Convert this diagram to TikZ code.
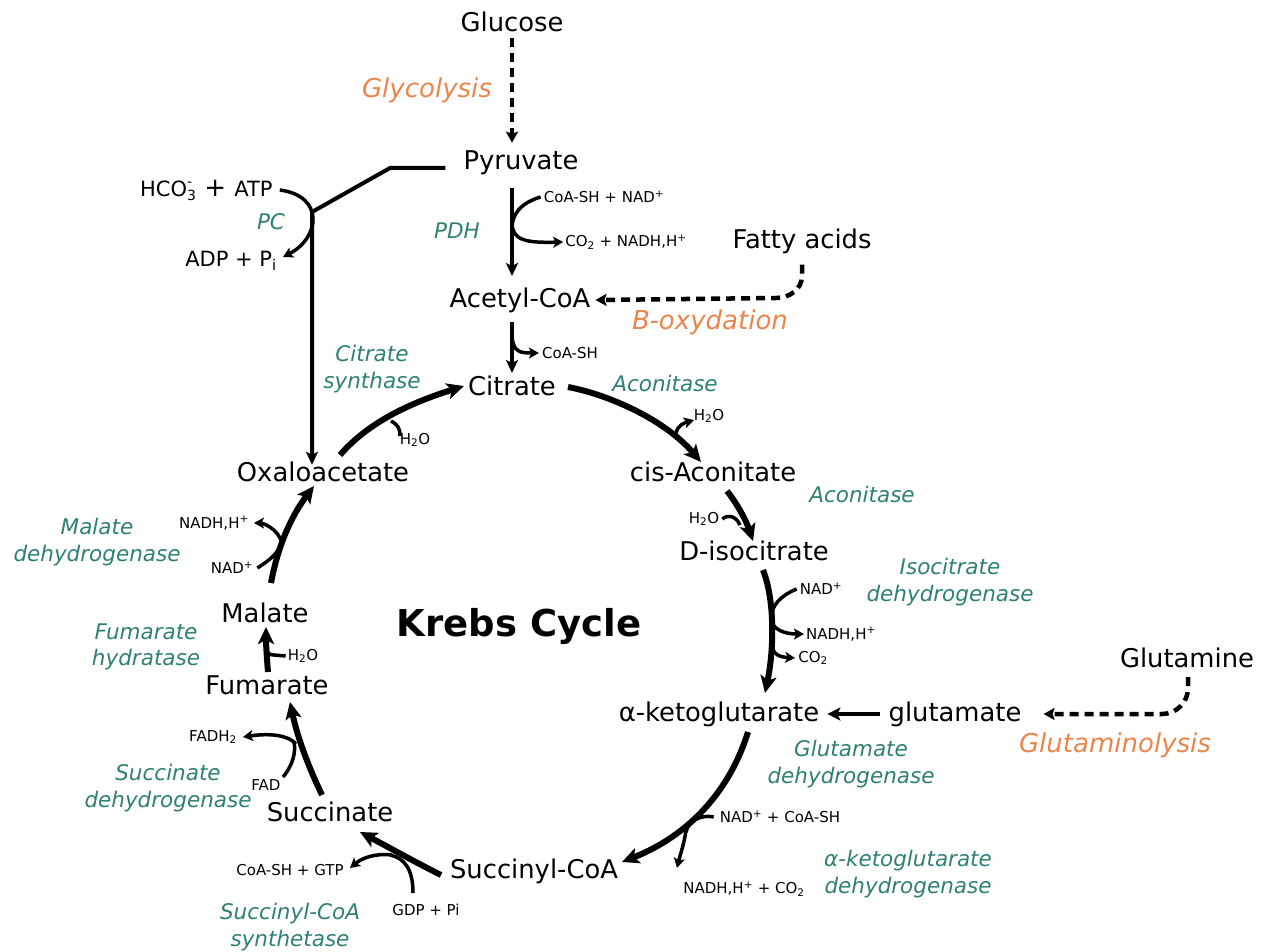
\documentclass[tikz,border=0pt]{standalone}
\usepackage{fontspec}
\setmainfont{DejaVu Sans}
\usetikzlibrary{arrows.meta}
\definecolor{enzc}{RGB}{46,128,118}
\definecolor{pwc}{RGB}{234,134,76}
\begin{document}
\begin{tikzpicture}[x=1pt,y=-1pt,
 met/.style={font=\fontsize{25.8}{30}\selectfont, inner sep=0pt},
 enz/.style={font=\fontsize{21.5}{26.5}\selectfont\itshape, text=enzc, align=center, inner sep=0pt},
 pw/.style={font=\fontsize{26}{30}\selectfont\itshape, text=pwc, inner sep=0pt},
 sm/.style={font=\fontsize{15}{17}\selectfont, inner sep=0pt},
 midtxt/.style={font=\fontsize{21}{25}\selectfont, inner sep=0pt},
 cyc/.style={line width=6pt, -{Stealth[length=17pt,width=16pt,inset=4pt]}},
 top/.style={line width=4pt, -{Stealth[length=13pt,width=12pt,inset=3pt]}},
 side/.style={line width=3.5pt, -{Stealth[length=10pt,width=11pt,inset=2.5pt]}},
 sidein/.style={line width=3.5pt},
 dsh/.style={line width=4.5pt, dash pattern=on 9pt off 6pt, -{Stealth[length=11pt,width=12pt,inset=2pt]}}
 ]
\useasboundingbox (0,0) rectangle (1266,952);
% metabolites
\node[met] (glc) at (512,22) {Glucose};
\node[met] (pyr) at (521,163) {Pyruvate};
\node[met] (acoa) at (520,300) {Acetyl-CoA};
\node[met] (cit) at (512,386) {Citrate};
\node[met] (cis) at (713,472) {cis-Aconitate};
\node[met] (iso) at (754,551) {D-isocitrate};
\node[met] (akg) at (719,714) {α-ketoglutarate};
\node[met] (glu) at (955,714) {glutamate};
\node[met] (gln) at (1187,658) {Glutamine};
\node[met] (fatty) at (802,241) {Fatty acids};
\node[met] (sucoa) at (534,871) {Succinyl-CoA};
\node[met] (succ) at (330,812) {Succinate};
\node[met] (fum) at (267,685) {Fumarate};
\node[met] (mal) at (265,613) {Malate};
\node[met] (oaa) at (323,472) {Oxaloacetate};
\node[font=\fontsize{37}{40}\selectfont\bfseries, inner sep=0pt] (krebs) at (519,626) {Krebs Cycle};
% pathways
\node[pw] (glyc) at (427,90) {Glycolysis};
\node[pw] (boxy) at (710,322) {B-oxydation};
\node[pw] (glnlys) at (1115,745) {Glutaminolysis};
% enzymes
\node[enz] (pc) at (271,222) {PC};
\node[enz] (pdh) at (457,231) {PDH};
\node[enz] (cs) at (372,369) {Citrate\\synthase};
\node[enz] (acon1) at (665,383) {Aconitase};
\node[enz] (acon2) at (862,494) {Aconitase};
\node[enz] (icdh) at (950,582) {Isocitrate\\dehydrogenase};
\node[enz] (gdh) at (851,764) {Glutamate\\dehydrogenase};
\node[enz] (akgdh) at (908,874) {α-ketoglutarate\\dehydrogenase};
\node[enz] (scs) at (290,927) {Succinyl-CoA\\synthetase};
\node[enz] (sdh) at (168,788) {Succinate\\dehydrogenase};
\node[enz] (fh) at (146,647) {Fumarate\\hydratase};
\node[enz] (mdh) at (97,542) {Malate\\dehydrogenase};
% cofactors
\node[midtxt, anchor=west] (hco) at (140,190) {HCO\rlap{\raisebox{10pt}{\fontsize{14}{14}\selectfont -}}\raisebox{-4pt}{\fontsize{14}{14}\selectfont 3}{\fontsize{26}{28}\selectfont\ +\ }ATP};
\node[midtxt] (adp) at (231,261) {ADP + P\textsubscript{i}};
\node[sm] (coanad) at (604,197) {CoA-SH + NAD\textsuperscript{+}};
\node[sm] (co2nadh) at (626,242) {CO\textsubscript{2} + NADH,H\textsuperscript{+}};
\node[sm] (coash) at (570,353) {CoA-SH};
\node[sm] (h2oa) at (415,440) {H\textsubscript{2}O};
\node[sm] (h2ob) at (709,416) {H\textsubscript{2}O};
\node[sm] (h2oc) at (704,519) {H\textsubscript{2}O};
\node[sm] (nada) at (821,589) {NAD\textsuperscript{+}};
\node[sm] (nadha) at (841,634) {NADH,H\textsuperscript{+}};
\node[sm] (co2a) at (813,658) {CO\textsubscript{2}};
\node[sm] (nadcoa) at (780,817) {NAD\textsuperscript{+} + CoA-SH};
\node[sm] (nadhco2) at (744,889) {NADH,H\textsuperscript{+} + CO\textsubscript{2}};
\node[sm] (gdp) at (426,910) {GDP + Pi};
\node[sm] (coagtp) at (290,870) {CoA-SH + GTP};
\node[sm] (fad) at (266,785) {FAD};
\node[sm] (fadh) at (213,737) {FADH\textsubscript{2}};
\node[sm] (h2od) at (303,656) {H\textsubscript{2}O};
\node[sm] (nadb) at (232,568) {NAD\textsuperscript{+}};
\node[sm] (nadhb) at (214,523) {NADH,H\textsuperscript{+}};

% ---- dashed feeding pathways
\draw[dsh] ([yshift=-6pt]glc.south) -- ([yshift=8pt]pyr.north -| glc.south);
\draw[dsh] ([yshift=-11pt]fatty.south) -- (802,276) to[out=-90,in=0] (776,298) -- ([xshift=5pt]acoa.east);
\draw[dsh] ([yshift=-9pt]gln.south -| 1188,0) -- (1188,688) to[out=-90,in=0] (1162,714) -- ([xshift=22pt]glu.east);
% ---- pyruvate to oxaloacetate (PC)
\coordinate (pcj) at (312,212);
\draw[top, line join=miter] ([xshift=-18pt,yshift=-5pt]pyr.west) -- (390,168) -- (pcj) -- ([yshift=-3pt]oaa.north -| pcj);
\draw[side] ([xshift=7pt]hco.east) .. controls (325,196) and (320,238) .. (283,257);
% ---- PDH
\draw[top] (512,188) -- (512,276);
\draw[sidein] ([xshift=-3pt]coanad.west) .. controls (520,203) and (512,215) .. (512,228);
\draw[side] (512,224) .. controls (513,240) and (525,243) .. ([xshift=-2pt]co2nadh.west);
% ---- Acetyl-CoA to citrate
\draw[top] (512,322) -- (512,373);
\draw[side] (512,336) .. controls (513,352) and (520,353) .. ([xshift=-3pt]coash.west);
% ---- cycle
\coordinate (a1) at (340,455);
\draw[cyc] (a1) .. controls (372,418) and (420,400) .. ([xshift=-4pt]cit.west);
\draw[sidein] (391,421) .. controls (398,425) and (400,428) .. (400,436);
\coordinate (b1) at (568,387);
\draw[cyc] (b1) .. controls (610,395) and (665,420) .. (701,462);
\draw[side] (676,433) .. controls (678,425) and (684,423) .. (694,420);
\draw[cyc] (727,491) .. controls (736,502) and (746,520) .. (753,541);
\draw[sidein] ([xshift=3pt]h2oc.east) .. controls (728,514) and (736,516) .. (740,525);
\draw[cyc] (763,570) .. controls (775,600) and (774,650) .. (765,693);
\draw[sidein] ([xshift=-3pt]nada.west) .. controls (780,596) and (772,605) .. (771,618);
\draw[side] (771,618) .. controls (772,630) and (785,634) .. ([xshift=-2pt]nadha.west);
\draw[side] (772,645) .. controls (773,655) and (780,657) .. ([xshift=-3pt]co2a.west);
\draw[line width=4.5pt, -{Stealth[length=13pt,width=13pt,inset=3pt]}] ([xshift=-8pt]glu.west) -- ([xshift=8pt]akg.east);
\draw[cyc] (748,732) .. controls (730,790) and (690,835) .. (622,862);
\draw[sidein] ([xshift=-6pt]nadcoa.west) .. controls (700,814) and (688,822) .. (686,832);
\draw[side] (686,830) .. controls (684,845) and (680,855) .. (677,868);
\draw[cyc] (441,875) .. controls (415,862) and (390,848) .. (360,832);
\draw[sidein] (413,893) .. controls (413,870) and (405,858) .. (390,855);
\draw[side] (392,855) .. controls (375,853) and (362,858) .. (350,868);
\draw[cyc] (322,795) .. controls (310,770) and (298,740) .. (290,702);
\draw[sidein] (283,777) .. controls (293,765) and (296,752) .. (294,742);
\draw[side] (296,744) .. controls (288,735) and (270,733) .. ([xshift=6pt]fadh.east);
\draw[cyc] (268,672) .. controls (267,660) and (266,645) .. (266,627);
\draw[sidein] ([xshift=-2pt]h2od.west) -- (274,655) .. controls (269,655) and (267,653) .. (267,648);
\draw[cyc] (271,583) .. controls (278,545) and (292,515) .. (314,486);
\draw[sidein] ([xshift=4pt]nadb.east) .. controls (270,560) and (280,552) .. (282,540);
\draw[side] (282,543) .. controls (278,528) and (262,523) .. ([xshift=5pt]nadhb.east);
\end{tikzpicture}
\end{document}
